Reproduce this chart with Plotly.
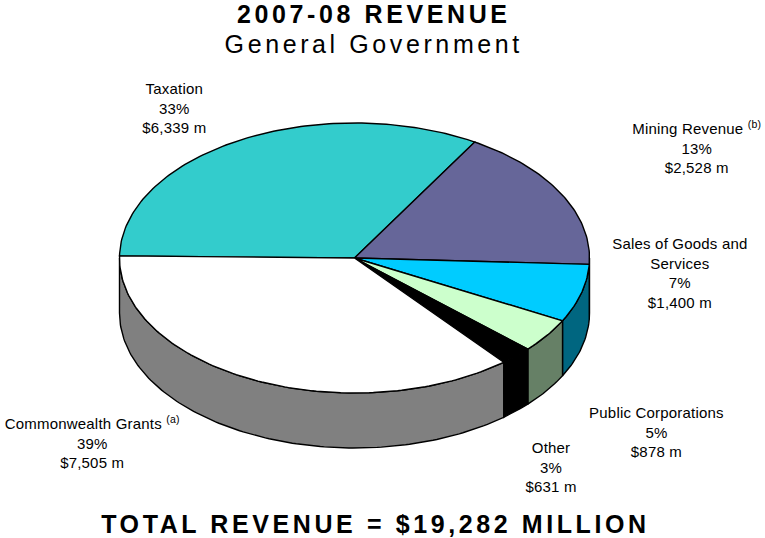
import math
import plotly.graph_objects as go

categories = ["Taxation", "Mining Revenue", "Sales of Goods and<br>Services", "Public Corporations", "Other", "Commonwealth Grants"]
percent_labels = [33, 13, 7, 5, 3, 39]
amounts = [6339, 2528, 1400, 878, 631, 7505]
footnotes = ["", "(b)", "", "", "", "(a)"]
# slice sizes as they are drawn in the picture (%), these do not quite follow the printed numbers
drawn_share = [33.3, 17.2, 6.95, 4.1, 2.25, 36.2]

top_colors = ["#33CCCC", "#666699", "#00CCFF", "#CCFFCC", "#000000", "#FFFFFF"]
wall_colors = ["#1A6666", "#33334D", "#006680", "#668066", "#000000", "#808080"]
label_pos = [(174, 108), (696, 147), (680, 273), (656, 432), (551, 467), (92, 442)]

cx, cy = 354.5, 258
rx, ry = 235, 135
depth = 55
start_angle = 270.9


def arc(a0, a1, drop=0):
    # angles are clockwise from the top of the ellipse
    n = max(2, int(abs(a1 - a0)) + 2)
    angles = [a0 + (a1 - a0) * i / (n - 1) for i in range(n)]
    xs = [cx + rx * math.sin(math.radians(a)) for a in angles]
    ys = [cy - ry * math.cos(math.radians(a)) + drop for a in angles]
    return xs, ys


# turn shares into start and end angles
total = sum(drawn_share)
edges = [start_angle]
for s in drawn_share:
    edges.append(edges[-1] + s / total * 360)

fig = go.Figure()

# side walls first, only the part facing the viewer (90 to 270 degrees)
for i, name in enumerate(categories):
    a0, a1 = edges[i], edges[i + 1]
    for shift in (0, 360):
        lo = max(a0, 90 + shift)
        hi = min(a1, 270 + shift)
        if hi <= lo:
            continue
        x1, y1 = arc(lo, hi)
        x2, y2 = arc(hi, lo, depth)
        fig.add_trace(go.Scatter(x=x1 + x2 + x1[:1], y=y1 + y2 + y1[:1], mode="lines", fill="toself",
                                 fillcolor=wall_colors[i], line=dict(color="black", width=1.4),
                                 hoverinfo="skip", showlegend=False))

# top faces
for i, name in enumerate(categories):
    xs, ys = arc(edges[i], edges[i + 1])
    fig.add_trace(go.Scatter(x=[cx] + xs + [cx], y=[cy] + ys + [cy], mode="lines", fill="toself",
                             fillcolor=top_colors[i], line=dict(color="black", width=1.4),
                             name=name.replace("<br>", " "), text=f"{percent_labels[i]}%", hoveron="fills",
                             showlegend=False))

annotations = []
for i, name in enumerate(categories):
    first = name
    if footnotes[i]:
        first += f" <sup>{footnotes[i]}</sup>"
    annotations.append(dict(x=label_pos[i][0], y=label_pos[i][1],
                            text=f"{first}<br>{percent_labels[i]}%<br>${amounts[i]:,} m",
                            showarrow=False, xanchor="center", yanchor="middle",
                            font=dict(family="Liberation Sans", size=15, color="black")))

annotations.append(dict(x=374, y=14, text="<b>2007-08 REVENUE</b>", showarrow=False,
                        font=dict(family="Liberation Sans", size=25, color="black")))
annotations.append(dict(x=374, y=44, text="General Government", showarrow=False,
                        font=dict(family="Liberation Sans", size=25, color="black")))
annotations.append(dict(x=375, y=524, text="<b>TOTAL REVENUE = $19,282 MILLION</b>", showarrow=False,
                        font=dict(family="Liberation Sans", size=25, color="black")))

fig.update_layout(
    width=765,
    height=538,
    margin=dict(l=0, r=0, t=0, b=0),
    paper_bgcolor="white",
    plot_bgcolor="white",
    xaxis=dict(range=[0, 765], visible=False, fixedrange=True),
    yaxis=dict(range=[538, 0], visible=False, fixedrange=True),
    annotations=annotations,
    showlegend=False,
)

# plotly has no letter spacing setting for the headings
post_script = """
document.body.style.margin = '0';
document.querySelectorAll('.annotation-text').forEach(function (t) {
    var s = t.textContent;
    if (s.indexOf('REVENUE') >= 0 || s.indexOf('General') >= 0) {
        t.style.letterSpacing = '3.6px';
    } else {
        t.style.letterSpacing = '0.2px';
    }
});
"""

fig.write_html("out.html", config=dict(displayModeBar=False), post_script=post_script)
